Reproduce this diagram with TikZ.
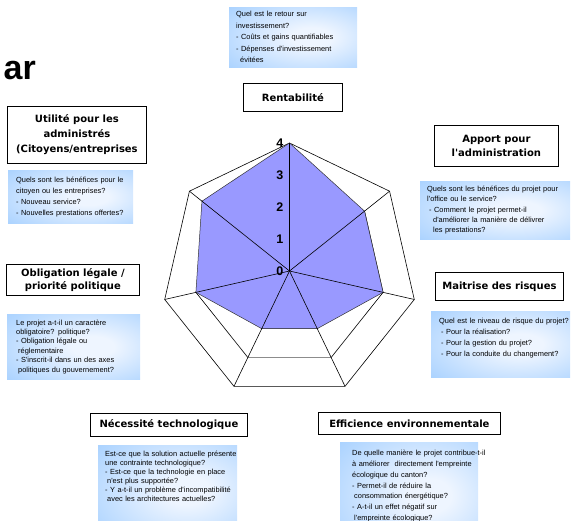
\documentclass[tikz,border=0pt]{standalone}
\usepackage{fontspec}
\setmainfont{Liberation Sans}
\newfontfamily\labfont{DejaVu Sans}
\newfontfamily\infofont{Liberation Sans}
\definecolor{infoblue}{RGB}{150,200,255}
\definecolor{infocenter}{RGB}{238,245,255}
\definecolor{radarfill}{RGB}{153,153,255}
\pgfdeclareradialshading{infoglow}{\pgfpoint{8bp}{0bp}}{color(0bp)=(infocenter); color(8bp)=(infocenter); color(48bp)=(infoblue); color(80bp)=(infoblue)}
\newcommand\infoline[1]{\mbox{#1}}
\begin{document}
\begin{tikzpicture}[x=1pt,y=-1pt,
  info/.style={anchor=north west, shading=infoglow, inner ysep=0pt, align=left,
    font=\infofont\fontsize{7.4}{#1}\selectfont},
  info/.default=11,
  labbox/.style={draw=black, line width=0.8pt, fill=white, anchor=north west, align=center,
    inner sep=0pt, font=\labfont\bfseries\fontsize{10}{#1}\selectfont},
  labbox/.default=13,
  ringline/.style={draw=black, line width=0.6pt},
  spoke/.style={draw=black, line width=0.6pt},
  datapoly/.style={fill=radarfill, draw=black!80, line width=0.5pt},
  num/.style={font=\infofont\bfseries\fontsize{12.5}{14}\selectfont, inner sep=0pt},
  titletext/.style={font=\infofont\bfseries\fontsize{34}{40}\selectfont, inner sep=0pt}]
\useasboundingbox (0,0) rectangle (571,521);
\clip (0,0) rectangle (571,521);

% title fragment
\node[titletext, anchor=base east] (title) at (36,80) {ar};

% radar chart
\begin{scope}[shift={(289.5,271)}, y=1pt]
  \coordinate (ctr) at (0,0);
  \foreach \k in {0,...,6} \coordinate (o\k) at ({90+\k*360/7}:128);
  \foreach \r in {32,64,96} {
    \draw[ringline] (90:\r) -- ({90+360/7}:\r) -- ({90+2*360/7}:\r) -- ({90+3*360/7}:\r)
      -- ({90+4*360/7}:\r) -- ({90+5*360/7}:\r) -- ({90+6*360/7}:\r) -- cycle;
  }
  \draw[ringline] (o0) -- (o1) -- (o2) -- (o3) -- (o4) -- (o5) -- (o6) -- cycle;
  \coordinate (d0) at (90:128);
  \coordinate (d1) at ({90+360/7}:112);
  \coordinate (d2) at ({90+2*360/7}:96);
  \coordinate (d3) at ({90+3*360/7}:64);
  \coordinate (d4) at ({90+4*360/7}:64);
  \coordinate (d5) at ({90+5*360/7}:96);
  \coordinate (d6) at ({90+6*360/7}:96);
  \filldraw[datapoly] (d0) -- (d1) -- (d2) -- (d3) -- (d4) -- (d5) -- (d6) -- cycle;
  \coordinate (g3) at ({90+3*360/7}:96);
  \coordinate (g4) at ({90+4*360/7}:96);
  \draw[black!45, line width=1.4pt] (g3) -- (g4);
  \foreach \k in {0,...,6} \draw[spoke] (ctr) -- (o\k);
  \foreach \v in {0,...,4} \node[num, anchor=east] (n\v) at (-6,\v*32) {\v};
\end{scope}

% label boxes
\node[labbox, minimum width=99pt, minimum height=28pt] (rent) at (243,83) {Rentabilité};
\node[labbox=14, minimum width=124pt, minimum height=41pt] (apport) at (434,125) {Apport pour\\l'administration};
\node[labbox=15, minimum width=139pt, minimum height=57pt] (util) at (7,106) {Utilité pour les\\administrés\\(Citoyens/entreprises};
\node[labbox=12.5, minimum width=133pt, minimum height=31pt] (oblig) at (6,264) {Obligation légale /\\priorité politique};
\node[labbox, minimum width=128pt, minimum height=28pt] (risk) at (435,272) {Maitrise des risques};
\node[labbox, minimum width=157pt, minimum height=23pt] (tech) at (90,413) {Nécessité technologique};
\node[labbox, minimum width=182pt, minimum height=22pt] (env) at (318,412) {Efficience environnementale};

% info boxes
\node[info=11.5, inner xsep=7pt, text width=114pt, minimum height=60pt] (rentinfo) at (229,7)
  {\infoline{Quel est le retour sur}\\
   \infoline{investissement?}\\
   \infoline{- Coûts et gains quantifiables}\\
   \infoline{- Dépenses d'investissement}\\
   \infoline{\hspace*{4pt}évitées}};
\node[info=11, inner xsep=8pt, text width=109pt, minimum height=53pt] (utilinfo) at (8,170)
  {\infoline{Quels sont les bénéfices pour le}\\
   \infoline{citoyen ou les entreprises?}\\
   \infoline{- Nouveau service?}\\
   \infoline{- Nouvelles prestations offertes?}};
\node[info=9.4, inner xsep=9pt, text width=115pt, minimum height=65pt] (obliginfo) at (7,314)
  {\infoline{Le projet a-t-il un caractère}\\
   \infoline{obligatoire? politique?}\\
   \infoline{- Obligation légale ou}\\
   \infoline{\hspace*{2pt}réglementaire}\\
   \infoline{- S'inscrit-il dans un des axes}\\
   \infoline{\hspace*{2pt}politiques du gouvernement?}};
\node[info=10.4, inner xsep=7pt, text width=136pt, minimum height=58pt] (apportinfo) at (420,181)
  {\infoline{Quels sont les bénéfices du projet pour}\\
   \infoline{l'office ou le service?}\\
   \infoline{\hspace*{2pt}- Comment le projet permet-il}\\
   \infoline{\hspace*{6pt}d'améliorer la manière de délivrer}\\
   \infoline{\hspace*{6pt}les prestations?}};
\node[info=11, inner xsep=8pt, text width=123pt, minimum height=66pt] (riskinfo) at (431,311)
  {\infoline{Quel est le niveau de risque du projet?}\\
   \infoline{\hspace*{2pt}- Pour la réalisation?}\\
   \infoline{\hspace*{2pt}- Pour la gestion du projet?}\\
   \infoline{\hspace*{2pt}- Pour la conduite du changement?}\\[2pt]\mbox{}};
\node[info=9, inner xsep=7pt, text width=125pt, inner ysep=5.5pt] (techinfo) at (98,445)
  {\infoline{Est-ce que la solution actuelle présente}\\
   \infoline{une contrainte technologique?}\\
   \infoline{- Est-ce que la technologie en place}\\
   \infoline{\hspace*{2pt}n'est plus supportée?}\\
   \infoline{- Y a-t-il un problème d'incompatibilité}\\
   \infoline{\hspace*{2pt}avec les architectures actuelles?}\\[20pt]\mbox{}};
\node[info=10.8, inner xsep=12pt, text width=114pt, inner ysep=8pt] (envinfo) at (340,442)
  {\infoline{De quelle manière le projet contribue-t-il}\\
   \infoline{à améliorer\ \ directement l'empreinte}\\
   \infoline{écologique du canton?}\\
   \infoline{- Permet-il de réduire la}\\
   \infoline{\hspace*{2pt}consommation énergétique?}\\
   \infoline{- A-t-il un effet négatif sur}\\
   \infoline{\hspace*{2pt}l'empreinte écologique?}\\[10pt]\mbox{}};
\end{tikzpicture}
\end{document}
